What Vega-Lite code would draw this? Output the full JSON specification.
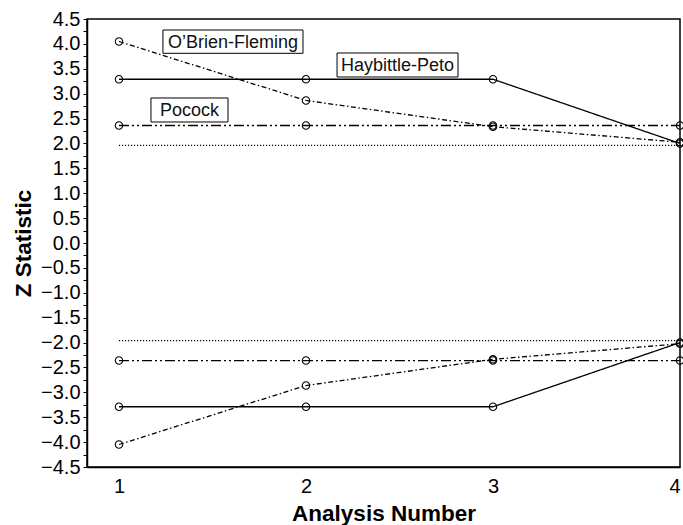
{
  "$schema": "https://vega.github.io/schema/vega-lite/v6.json",
  "width": 593,
  "height": 448,
  "autosize": {"type": "none"},
  "padding": {"left": 87, "top": 19, "right": 3, "bottom": 58},
  "background": "white",
  "config": {
    "view": {"stroke": "black", "strokeWidth": 1.5},
    "font": "Liberation Sans",
    "axis": {
      "labelOverlap": false,
      "labelBound": false,
      "grid": false,
      "labelFontSize": 20,
      "labelColor": "black",
      "domainColor": "black",
      "domainWidth": 1.5,
      "tickColor": "black",
      "tickWidth": 1,
      "titleFontSize": 22.5,
      "titleFontWeight": "bold",
      "titleColor": "black"
    },
    "axisX": {"ticks": false, "tickSize": 0, "labelPadding": 9, "labelFlush": true, "titlePadding": 6},
    "axisY": {"tickSize": 4, "labelPadding": 3, "labelFlush": false, "titlePadding": 5}
  },
  "datasets": {
    "bounds": [
      {"series": "OBF", "side": "up", "x": 1, "z": 4.048},
      {"series": "OBF", "side": "up", "x": 2, "z": 2.863},
      {"series": "OBF", "side": "up", "x": 3, "z": 2.337},
      {"series": "OBF", "side": "up", "x": 4, "z": 2.024},
      {"series": "OBF", "side": "down", "x": 1, "z": -4.048},
      {"series": "OBF", "side": "down", "x": 2, "z": -2.863},
      {"series": "OBF", "side": "down", "x": 3, "z": -2.337},
      {"series": "OBF", "side": "down", "x": 4, "z": -2.024},
      {"series": "Pocock", "side": "up", "x": 1, "z": 2.361},
      {"series": "Pocock", "side": "up", "x": 2, "z": 2.361},
      {"series": "Pocock", "side": "up", "x": 3, "z": 2.361},
      {"series": "Pocock", "side": "up", "x": 4, "z": 2.361},
      {"series": "Pocock", "side": "down", "x": 1, "z": -2.361},
      {"series": "Pocock", "side": "down", "x": 2, "z": -2.361},
      {"series": "Pocock", "side": "down", "x": 3, "z": -2.361},
      {"series": "Pocock", "side": "down", "x": 4, "z": -2.361},
      {"series": "HP", "side": "up", "x": 1, "z": 3.29},
      {"series": "HP", "side": "up", "x": 2, "z": 3.29},
      {"series": "HP", "side": "up", "x": 3, "z": 3.29},
      {"series": "HP", "side": "up", "x": 4, "z": 2.0},
      {"series": "HP", "side": "down", "x": 1, "z": -3.29},
      {"series": "HP", "side": "down", "x": 2, "z": -3.29},
      {"series": "HP", "side": "down", "x": 3, "z": -3.29},
      {"series": "HP", "side": "down", "x": 4, "z": -2.0}
    ],
    "ref": [
      {"side": "up", "x": 1, "z": 1.96},
      {"side": "up", "x": 4, "z": 1.96},
      {"side": "down", "x": 1, "z": -1.96},
      {"side": "down", "x": 4, "z": -1.96}
    ],
    "labels": [
      {"label": "O’Brien-Fleming", "x1": 1.235, "x2": 1.984, "y1": 4.279, "y2": 3.811, "tx": 1.61, "ty": 4.045},
      {"label": "Haybittle-Peto", "x1": 2.166, "x2": 2.813, "y1": 3.817, "y2": 3.335, "tx": 2.489, "ty": 3.576},
      {"label": "Pocock", "x1": 1.171, "x2": 1.583, "y1": 2.913, "y2": 2.431, "tx": 1.377, "ty": 2.672}
    ]
  },
  "layer": [
    {
      "data": {"name": "ref"},
      "mark": {"type": "line", "color": "black", "strokeWidth": 1.2, "strokeDash": [1.2, 1.8]},
      "encoding": {
        "x": {
          "field": "x", "type": "quantitative",
          "scale": {"domain": [0.829, 4], "nice": false, "zero": false},
          "axis": {
            "title": "Analysis Number",
            "values": [1, 2, 3, 4],
            "tickCount": 10,
            "format": "d"
          }
        },
        "y": {
          "field": "z", "type": "quantitative",
          "scale": {"domain": [-4.5, 4.5], "nice": false, "zero": false},
          "axis": {
            "title": "Z Statistic",
            "values": [4.5, 4.25, 4, 3.75, 3.5, 3.25, 3, 2.75, 2.5, 2.25, 2, 1.75, 1.5, 1.25, 1, 0.75, 0.5, 0.25, 0, -0.25, -0.5, -0.75, -1, -1.25, -1.5, -1.75, -2, -2.25, -2.5, -2.75, -3, -3.25, -3.5, -3.75, -4, -4.25, -4.5],
            "tickCount": 60,
            "format": ".1f",
            "labelExpr": "datum.value * 2 == round(datum.value * 2) ? datum.label : ''"
          }
        },
        "detail": {"field": "side"}
      }
    },
    {
      "data": {"name": "bounds"},
      "mark": {"type": "line", "color": "black", "strokeWidth": 1.3},
      "encoding": {
        "x": {"field": "x", "type": "quantitative"},
        "y": {"field": "z", "type": "quantitative"},
        "strokeDash": {
          "field": "series", "type": "nominal",
          "scale": {"domain": ["HP", "OBF", "Pocock"], "range": [[1, 0], [5, 2.5, 1.5, 2.5], [10, 3, 2, 3, 2, 3]]},
          "legend": null
        },
        "detail": {"field": "side"}
      }
    },
    {
      "data": {"name": "bounds"},
      "mark": {"type": "point", "shape": "circle", "filled": false, "size": 55, "color": "black", "strokeWidth": 1.1, "opacity": 1},
      "encoding": {
        "x": {"field": "x", "type": "quantitative"},
        "y": {"field": "z", "type": "quantitative"}
      }
    },
    {
      "data": {"name": "labels"},
      "mark": {"type": "rect", "fill": "white", "stroke": "black", "strokeWidth": 1},
      "encoding": {
        "x": {"field": "x1", "type": "quantitative"},
        "x2": {"field": "x2"},
        "y": {"field": "y1", "type": "quantitative"},
        "y2": {"field": "y2"}
      }
    },
    {
      "data": {"name": "labels"},
      "mark": {"type": "text", "fontSize": 18, "color": "#111", "baseline": "middle", "align": "center", "dy": 1},
      "encoding": {
        "x": {"field": "tx", "type": "quantitative"},
        "y": {"field": "ty", "type": "quantitative"},
        "text": {"field": "label"}
      }
    }
  ]
}
